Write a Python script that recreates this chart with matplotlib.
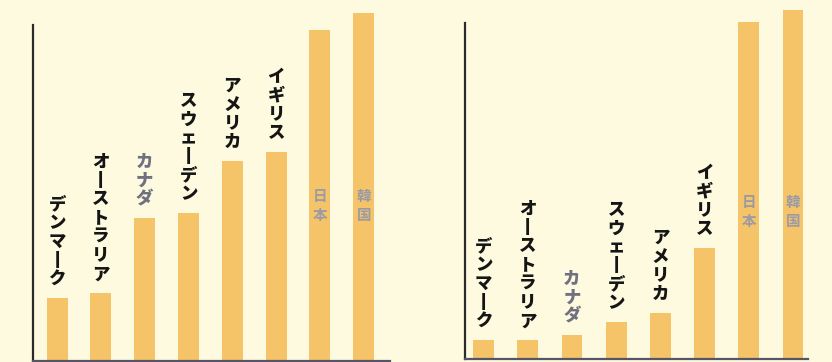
import matplotlib
matplotlib.use('Agg')
from matplotlib import pyplot as plt
from matplotlib import transforms

plt.rcParams['font.family'] = ['Noto Sans CJK JP', 'DejaVu Sans']

countries = ['デンマーク', 'オーストラリア', 'カナダ', 'スウェーデン',
             'アメリカ', 'イギリス', '日本', '韓国']
left_values = [63, 68, 143, 148, 200, 209, 331, 348]
right_values = [19, 19, 24, 37, 46, 111, 337, 349]

bg = '#fdfae0'
bar_color = '#f5c468'
inside = ['日本', '韓国']
gray_labels = ['カナダ']


def vertical(s):
    # stack characters for tategaki-style labels
    return '\n'.join('丨' if c == 'ー' else c for c in s)


def panel(ax, values, xlim, ymax, spine_top, width, inside_y):
    ax.set_facecolor(bg)
    x = list(range(len(countries)))
    ax.bar(x, values, width=width, color=bar_color)
    ax.set_xlim(*xlim)
    ax.set_ylim(0, ymax)
    for s in ['top', 'right']:
        ax.spines[s].set_visible(False)
    ax.spines['left'].set_bounds(0, spine_top)
    ax.spines['left'].set_color('#2a2a2a')
    ax.spines['left'].set_linewidth(1.6)
    ax.spines['bottom'].set_color('#555566')
    ax.spines['bottom'].set_linewidth(1.6)
    ax.set_xticks([])
    ax.set_yticks([])
    trans = transforms.blended_transform_factory(ax.transData, ax.transAxes)
    for xi, name, v in zip(x, countries, values):
        if name in inside:
            ax.text(xi, inside_y, vertical(name), transform=trans, ha='center',
                    va='center', fontsize=10.5, color='#9a9aa6',
                    fontweight='bold', linespacing=1.25)
        else:
            col = '#707080' if name in gray_labels else '#151515'
            ax.annotate(vertical(name), (xi, v), xytext=(0, 7),
                        textcoords='offset points', ha='center', va='bottom',
                        fontsize=12.5, fontweight='heavy', color=col,
                        linespacing=1.05)


fig = plt.figure(figsize=(8.32, 3.62), dpi=100, facecolor=bg)
ax1 = fig.add_axes([33 / 832, 1 / 362, 357 / 832, 361 / 362])
ax2 = fig.add_axes([465 / 832, 3 / 362, 343 / 832, 359 / 362])

panel(ax1, left_values, (-0.55, 7.6), 361, 336, 0.48, 0.43)
panel(ax2, right_values, (-0.42, 7.34), 359, 336, 0.47, 0.41)

fig.savefig('out.png', dpi=100, facecolor=bg)
